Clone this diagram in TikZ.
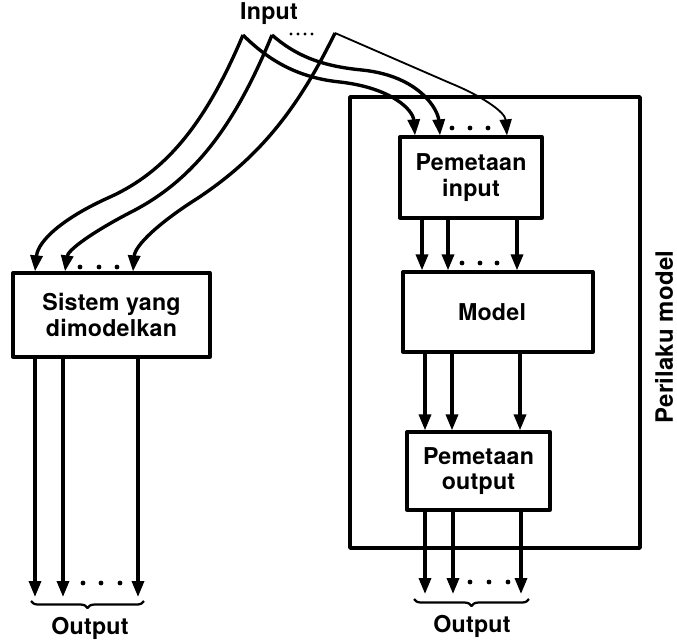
\documentclass[tikz,border=0pt]{standalone}
\usepackage{fontspec}
\setmainfont{TeX Gyre Heros}[LetterSpace=1]
\usetikzlibrary{arrows.meta,decorations.pathreplacing}

\tikzset{
  blok/.style={draw,line width=2.3pt,align=center,inner sep=0pt,font=\fontsize{16.5}{18}\selectfont\bfseries},
  teks/.style={font=\fontsize{16.5}{18}\selectfont\bfseries},
  panah/.style={-{Triangle[length=4mm,width=3mm]},line width=2.4pt},
  kurung/.style={decorate,decoration={brace,mirror,amplitude=5pt},line width=1.6pt}
}

\begin{document}
\begin{tikzpicture}[x=0.025cm,y=-0.025cm,line join=round]
  \useasboundingbox (0,0) rectangle (677,640);
  % kotak
  \node[blok,minimum width=4.925cm,minimum height=2.1cm] (sis) at (111.5,315) {Sistem yang\\dimodelkan};
  \node[draw,line width=2.4pt,minimum width=7.25cm,minimum height=11.275cm] (perilaku) at (495,322.5) {};
  \node[blok,minimum width=3.55cm,minimum height=2.025cm] (pemin) at (471,177.5) {Pemetaan\\input};
  \node[blok,minimum width=4.75cm,minimum height=2cm] (model) at (498,312) {\hspace*{-0.3cm}Model};
  \node[blok,minimum width=3.575cm,minimum height=1.95cm] (pemout) at (478.5,471) {Pemetaan\\output};
  \node[rotate=90,font=\fontsize{17}{20}\selectfont\bfseries] (lbl) at (664,337) {Perilaku model};
  % input
  \node[teks] (inp) at (269,14) {Input};
  \coordinate (in1) at (243,35);
  \coordinate (in2) at (272,35);
  \coordinate (in3) at (335,33);
  \foreach \x in {291,298,305,312} \fill (\x,34) circle (1.7);
  \draw[panah] (in1) .. controls (205,125) and (165,172) .. (110,197) .. controls (65,217) and (38,240) .. (sis.north -| 35,0);
  \draw[panah] (in2) .. controls (235,125) and (195,178) .. (135,210) .. controls (92,232) and (68,250) .. (sis.north -| 65,0);
  \draw[panah] (in3) .. controls (295,115) and (255,160) .. (198,198) .. controls (160,222) and (135,245) .. (sis.north -| 133,0);
  \draw[panah] (in1) .. controls (270,62) and (300,78) .. (340,82) .. controls (392,88) and (413,110) .. (pemin.north -| 415,0);
  \draw[panah] (in2) .. controls (295,55) and (320,66) .. (362,70) .. controls (420,76) and (438,110) .. (pemin.north -| 440,0);
  \draw[panah,line width=1.3pt] (in3) -- (450,83) .. controls (482,96) and (505,112) .. (pemin.north -| 507,0);
  \foreach \x in {80,99,117} \fill (\x,267) circle (2.4);
  \foreach \x in {452,470,488} \fill (\x,128) circle (2.4);
  % antar kotak
  \foreach \a in {422,448,517} \draw[panah] (pemin.south -| \a,0) -- (model.north -| \a,0);
  \foreach \x in {462,480,497} \fill (\x,263) circle (2.4);
  \foreach \a in {425,452,520} \draw[panah] (model.south -| \a,0) -- (pemout.north -| \a,0);
  % output
  \coordinate (oL) at (90,597);
  \coordinate (oR) at (472,594);
  \foreach \a in {35,63,138} \draw[panah] (sis.south -| \a,0) -- (oL -| \a,0);
  \foreach \a in {425,453,521} \draw[panah] (pemout.south -| \a,0) -- (oR -| \a,0);
  \foreach \x in {83,101,120} \fill (\x,583) circle (2.4);
  \foreach \x in {470,489,508} \fill (\x,582) circle (2.4);
  \draw[kurung] (31,601) -- (144,601);
  \draw[kurung] (414,599) -- (529,599);
  \node[teks] (outL) at (90,628) {Output};
  \node[teks] (outR) at (472,626) {Output};
\end{tikzpicture}
\end{document}
